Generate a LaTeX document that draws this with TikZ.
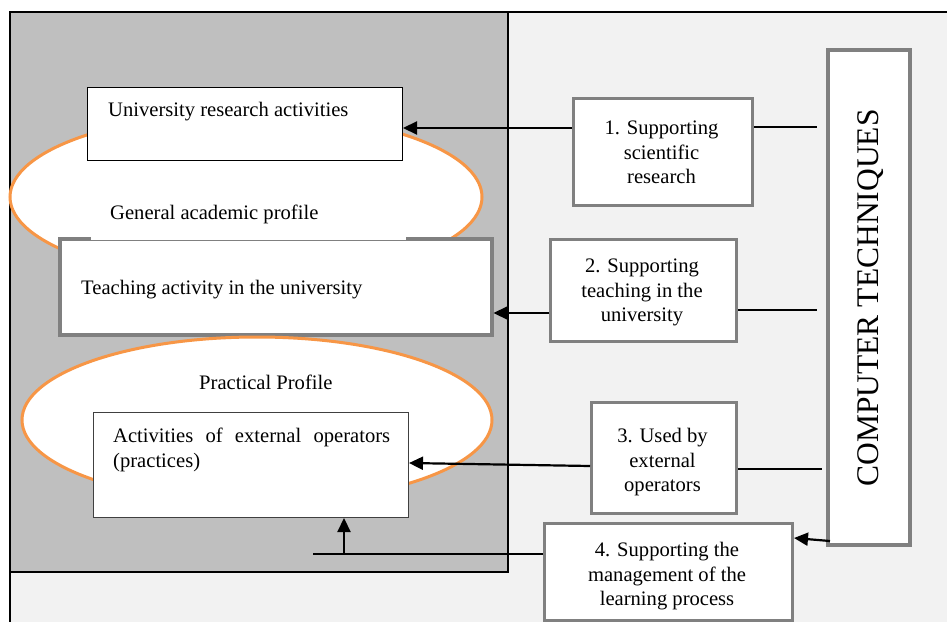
\documentclass[tikz,border=0pt]{standalone}
\usepackage{fontspec}
\setmainfont{Liberation Serif}
\usetikzlibrary{arrows.meta}
\definecolor{panelgray}{HTML}{BFBFBF}
\definecolor{bggray}{HTML}{F2F2F2}
\definecolor{orng}{HTML}{F79646}
\definecolor{boxgray}{HTML}{808080}
\begin{document}
\begin{tikzpicture}[x=1pt,y=-1pt,
  conn/.style={line width=2.2pt, black},
  arr/.style={conn, -{Triangle[length=14pt,width=13pt]}},
  whitebox/.style={draw, fill=white, anchor=north west, inner sep=0pt},
  graybox/.style={whitebox, draw=boxgray, line width=3pt},
  txt/.style={inner sep=0pt, font=\fontsize{20.6}{24.5}\selectfont},
  prof/.style={draw=orng, line width=3pt, fill=white}]
\useasboundingbox (0,0) rectangle (947,621);
% backgrounds
\begin{scope}
  \clip (0,0) rectangle (947,621);
  \draw[fill=bggray, line width=1.5pt] (10,12) rectangle (960,640);
\end{scope}
\draw[fill=panelgray, line width=1.5pt] (10,12) rectangle (508,572);
% general academic profile
\draw[prof] (246,197) ellipse [x radius=236pt, y radius=84pt];
\node[whitebox, line width=1pt, minimum width=315pt, minimum height=73pt] (research) at (87,87) {};
\node[graybox, line width=3.5pt, minimum width=432pt, minimum height=96pt] (teach) at (58,237) {};
\node[fill=white, inner sep=0pt, anchor=north west, minimum width=315pt, minimum height=42pt] (gapcover) at (91,198) {};
% practical profile
\draw[prof] (257,420) ellipse [x radius=235pt, y radius=83pt];
\node[whitebox, draw=black!75, line width=1pt, minimum width=315pt, minimum height=105pt] (ext) at (93,412) {};
% right boxes
\node[graybox, minimum width=179pt, minimum height=107pt] (box1) at (572,97) {};
\node[graybox, minimum width=186pt, minimum height=102pt] (box2) at (549,238) {};
\node[graybox, minimum width=145pt, minimum height=111pt] (box3) at (590,401) {};
\node[graybox, minimum width=248pt, minimum height=97pt] (box4) at (543,522) {};
\node[graybox, line width=4pt, minimum width=82pt, minimum height=495pt] (comp) at (826,48) {};
% texts
\node[txt, anchor=base west] (tres) at (108,116) {University research activities};
\node[txt, anchor=base west] (tgen) at (110,219) {General academic profile};
\node[txt, anchor=base west] (tteach) at (81,294) {Teaching activity in the university};
\node[txt, anchor=base west] (tprac) at (199,389) {Practical Profile};
\node[txt, anchor=north west, text width=277pt, align=left] (tact) at (113,428)
  {Activities\hfill of\hfill external\hfill operators\\(practices)};
\node[txt, anchor=north, align=center] (t1) at (661.5,121) {1. Supporting\\scientific\\research};
\node[txt, anchor=north, align=center] (t2) at (642,259) {2. Supporting\\teaching in the\\university};
\node[txt, anchor=north, align=center] (t3) at (662.5,428) {3. Used by\\external\\operators};
\node[txt, anchor=north, align=center] (t4) at (667,542) {4. Supporting the\\management of the\\learning process};
\node[inner sep=0pt, rotate=90, anchor=base, font=\fontsize{31.5}{36}\selectfont] (tcomp) at (878,298) {COMPUTER TECHNIQUES};
% connectors
\coordinate (c1) at (817,127);
\coordinate (a1) at (0,128);
\draw[conn] (box1.east |- c1) -- (c1);
\draw[arr] (box1.west |- a1) -- (research.east |- a1);
\coordinate (c2) at (817,310);
\coordinate (a2) at (0,313);
\draw[conn] (box2.east |- c2) -- (c2);
\draw[arr] (box2.west |- a2) -- (teach.east |- a2);
\coordinate (c3) at (822,469);
\coordinate (s3) at (0,466);
\coordinate (a3) at (0,463);
\draw[conn] (box3.east |- c3) -- (c3);
\draw[arr] (box3.west |- s3) -- (ext.east |- a3);
\coordinate (s4) at (830,541);
\coordinate (a4) at (0,538);
\draw[arr] (s4) -- (box4.east |- a4);
\coordinate (l4) at (313,554);
\coordinate (j4) at (344,554);
\draw[conn] (box4.west |- l4) -- (l4);
\draw[arr] (j4) -- (ext.south -| j4);
\end{tikzpicture}
\end{document}
